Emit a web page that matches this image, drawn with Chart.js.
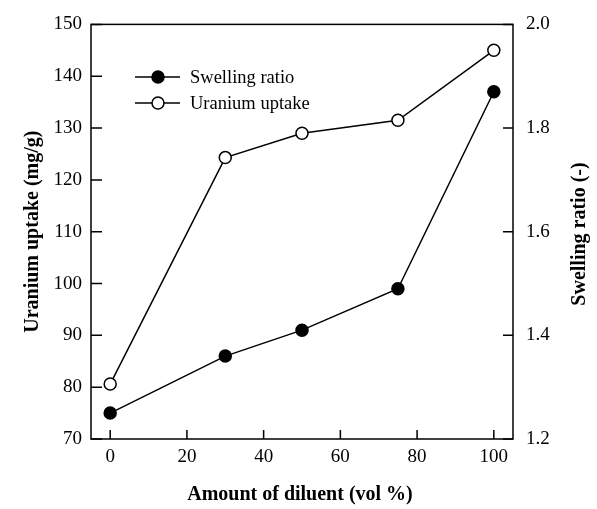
<!DOCTYPE html>
<html>
<head>
<meta charset="utf-8">
<script src="https://cdn.jsdelivr.net/npm/chart.js@4.4.0/dist/chart.umd.min.js"></script>
<style>
  body { margin: 0; background: #fff; }
  #wrap { width: 597px; height: 509px; }
</style>
</head>
<body>
<div id="wrap"><canvas id="myChart" width="597" height="509"></canvas></div>
<script>
// diluent amount (vol %)
var diluent = [0, 30, 50, 75, 100];
// uranium uptake (mg/g), left axis
var uptake = [80.6, 124.3, 129.0, 131.5, 145.0];
// swelling ratio (-), right axis
var swelling = [1.25, 1.36, 1.41, 1.49, 1.87];

var xTicks = [0, 20, 40, 60, 80, 100];
var serif = '"Liberation Serif", "Times New Roman", serif';

function pairs(xs, ys) {
    return xs.map(function (x, i) { return { x: x, y: ys[i] }; });
}

// inward ticks, frame, rotated titles and the legend box
var framePlugin = {
    id: 'frame',
    afterDraw: function (chart) {
        var ctx = chart.ctx;
        var a = chart.chartArea;
        var sx = chart.scales.x, sy = chart.scales.y, sy1 = chart.scales.y1;
        ctx.save();
        ctx.strokeStyle = '#000';
        ctx.lineWidth = 1.5;
        ctx.strokeRect(a.left, a.top, a.right - a.left, a.bottom - a.top);

        ctx.beginPath();
        sx.ticks.forEach(function (t) {
            var px = sx.getPixelForValue(t.value);
            ctx.moveTo(px, a.bottom);
            ctx.lineTo(px, a.bottom - 9);
        });
        sy.ticks.forEach(function (t) {
            var py = sy.getPixelForValue(t.value);
            ctx.moveTo(a.left, py);
            ctx.lineTo(a.left + 11, py);
        });
        sy1.ticks.forEach(function (t) {
            var py = sy1.getPixelForValue(t.value);
            ctx.moveTo(a.right, py);
            ctx.lineTo(a.right - 10, py);
        });
        ctx.stroke();

        // axis titles
        ctx.fillStyle = '#000';
        ctx.font = 'bold 20px ' + serif;
        ctx.textAlign = 'center';
        ctx.textBaseline = 'middle';
        ctx.fillText('Amount of diluent (vol %)', 300, 495);
        var midY = (a.top + a.bottom) / 2;
        ctx.save();
        ctx.translate(33, midY);
        ctx.rotate(-Math.PI / 2);
        ctx.fillText('Uranium uptake (mg/g)', 0, 0);
        ctx.restore();
        ctx.save();
        ctx.translate(580, 234);
        ctx.rotate(-Math.PI / 2);
        ctx.fillText('Swelling ratio (-)', 0, 0);
        ctx.restore();

        // legend
        ctx.font = '18.5px ' + serif;
        ctx.textAlign = 'left';
        chart.data.datasets.forEach(function (ds, i) {
            var ly = 77 + i * 26;
            ctx.beginPath();
            ctx.lineWidth = 1.5;
            ctx.moveTo(135, ly);
            ctx.lineTo(180, ly);
            ctx.stroke();
            ctx.beginPath();
            ctx.arc(158, ly, 6, 0, Math.PI * 2);
            ctx.fillStyle = ds.pointBackgroundColor;
            ctx.fill();
            ctx.stroke();
            ctx.fillStyle = '#000';
            ctx.fillText(ds.label, 190, ly + 1);
        });
        ctx.restore();
    }
};

var tickFont = { family: serif, size: 19 };
var noGrid = { display: false, tickLength: 0 };

var ctx = document.getElementById('myChart').getContext('2d');
var chart = new Chart(ctx, {
    type: 'line',
    data: {
        datasets: [{
            label: 'Swelling ratio',
            data: pairs(diluent, swelling),
            yAxisID: 'y1',
            borderColor: '#000',
            borderWidth: 1.5,
            pointBackgroundColor: '#000',
            pointBorderColor: '#000',
            pointBorderWidth: 1.5,
            pointRadius: 6,
            tension: 0
        }, {
            label: 'Uranium uptake',
            data: pairs(diluent, uptake),
            yAxisID: 'y',
            borderColor: '#000',
            borderWidth: 1.5,
            pointBackgroundColor: '#fff',
            pointBorderColor: '#000',
            pointBorderWidth: 1.5,
            pointRadius: 6,
            tension: 0
        }]
    },
    options: {
        responsive: false,
        animation: false,
        layout: { padding: { top: 17, left: 0, right: 0, bottom: 0 } },
        plugins: { legend: { display: false }, tooltip: { enabled: false } },
        scales: {
            x: {
                type: 'linear',
                position: 'bottom',
                min: -5,
                max: 105,
                afterBuildTicks: function (s) { s.ticks = xTicks.map(function (v) { return { value: v }; }); },
                afterFit: function (s) { s.height = 70; },
                grid: noGrid,
                border: { display: false },
                ticks: { color: '#000', padding: 7, font: tickFont }
            },
            y: {
                position: 'left',
                min: 70,
                max: 150,
                afterFit: function (s) { s.width = 91; },
                grid: noGrid,
                border: { display: false },
                ticks: { stepSize: 10, color: '#000', padding: 9, font: tickFont }
            },
            y1: {
                position: 'right',
                min: 1.2,
                max: 2.0,
                afterFit: function (s) { s.width = 84; },
                grid: noGrid,
                border: { display: false },
                ticks: {
                    stepSize: 0.2,
                    color: '#000',
                    padding: 13,
                    font: tickFont,
                    callback: function (v) { return Number(v).toFixed(1); }
                }
            }
        }
    },
    plugins: [framePlugin]
});
</script>
</body>
</html>
